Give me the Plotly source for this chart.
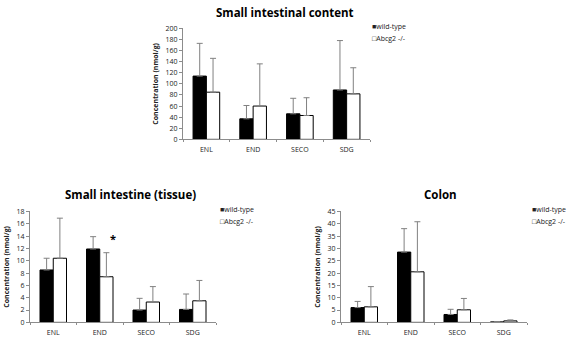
import plotly.graph_objects as go

categories = ["ENL", "END", "SECO", "SDG"]
series_names = ["wild-type", "Abcg2 -/-"]

# Small intestinal content (nmol/g)
content_wt = [114, 37, 46, 89]
content_wt_err = [59, 24, 28, 89]
content_ko = [85, 60, 43, 82]
content_ko_err = [61, 76, 32, 47]

# Small intestine (tissue)
tissue_wt = [8.5, 11.9, 2.0, 2.1]
tissue_wt_err = [1.9, 2.0, 1.9, 2.5]
tissue_ko = [10.4, 7.4, 3.3, 3.5]
tissue_ko_err = [6.5, 3.9, 2.5, 3.3]

# Colon
colon_wt = [6.0, 28.5, 3.2, 0.2]
colon_wt_err = [2.5, 9.5, 2.1, 0.1]
colon_ko = [6.3, 20.5, 5.1, 0.6]
colon_ko_err = [8.2, 20.3, 4.6, 0.4]

FONT = "Open Sans"
ERR_COLOR = "#808080"
AX_COLOR = "#8c8c8c"

W, H = 567, 340


def px(x):
    return x / W


def py(y):
    return 1 - y / H


panels = [
    ("x", "y", content_wt, content_wt_err, content_ko, content_ko_err),
    ("x2", "y2", tissue_wt, tissue_wt_err, tissue_ko, tissue_ko_err),
    ("x3", "y3", colon_wt, colon_wt_err, colon_ko, colon_ko_err),
]

fig = go.Figure()
for xa, ya, wt, wt_err, ko, ko_err in panels:
    fig.add_trace(go.Bar(
        x=categories, y=wt, name=series_names[0], xaxis=xa, yaxis=ya, showlegend=False,
        marker=dict(color="black", line=dict(color="black", width=1)),
        error_y=dict(type="data", array=wt_err, arrayminus=[0] * 4, symmetric=False,
                     color=ERR_COLOR, thickness=1, width=3),
    ))
    fig.add_trace(go.Bar(
        x=categories, y=ko, name=series_names[1], xaxis=xa, yaxis=ya, showlegend=False,
        marker=dict(color="white", line=dict(color="black", width=1)),
        error_y=dict(type="data", array=ko_err, arrayminus=[0] * 4, symmetric=False,
                     color=ERR_COLOR, thickness=1, width=3),
    ))

tick_font = dict(size=7, family=FONT, color="#222")
yaxis_common = dict(
    showline=True, linecolor=AX_COLOR, linewidth=1, showgrid=False, zeroline=False,
    ticks="outside", ticklen=3, tickcolor=AX_COLOR, tickfont=tick_font,
)
xaxis_common = dict(
    showline=True, linecolor=AX_COLOR, linewidth=1, showgrid=False, zeroline=False,
    ticks="outside", ticklen=2, tickcolor=AX_COLOR, tickson="boundaries",
    tickfont=tick_font, ticklabelstandoff=3,
)
ytitle = dict(text="<b>Concentration (nmol/g)</b>", font=dict(size=7, family=FONT, color="#222"), standoff=6)

fig.update_layout(
    width=W, height=H, margin=dict(l=0, r=0, t=0, b=0),
    paper_bgcolor="white", plot_bgcolor="white",
    barmode="group", bargap=0.43, bargroupgap=0,
    font=dict(family=FONT, size=7, color="#222"),
    showlegend=False,
    xaxis=dict(domain=[px(183), px(370)], anchor="y", **xaxis_common),
    yaxis=dict(domain=[py(138), py(24)], anchor="x", range=[0, 200], dtick=20, title=ytitle, **yaxis_common),
    xaxis2=dict(domain=[px(30), px(216)], anchor="y2", **xaxis_common),
    yaxis2=dict(domain=[py(326), py(212)], anchor="x2", range=[0, 18], dtick=2, title=ytitle, **yaxis_common),
    xaxis3=dict(domain=[px(341), px(527)], anchor="y3", **xaxis_common),
    yaxis3=dict(domain=[py(326), py(212)], anchor="x3", range=[0, 45], dtick=5, title=ytitle, **yaxis_common),
)

# per-panel legends: small square glyph right before the label
legend_spots = [(370, 22), (218, 210), (530, 210)]
for lx, ly in legend_spots:
    for i, (glyph, name) in enumerate(zip(["■", "□"], series_names)):
        fig.add_annotation(text=glyph + name, x=px(lx), y=py(ly + 12 * i), xref="paper", yref="paper",
                           xanchor="left", yanchor="middle", showarrow=False,
                           font=dict(size=7, family=FONT, color="#222"))

titles = [
    ("Small intestinal content", px(285), py(8)),
    ("Small intestine (tissue)", px(130), py(195)),
    ("Colon", px(440), py(195)),
]
for text, x, y in titles:
    fig.add_annotation(text="<b>%s</b>" % text, x=x, y=y, xref="paper", yref="paper",
                       xanchor="center", yanchor="middle", showarrow=False,
                       font=dict(size=11.5, family=FONT, color="black"))

fig.add_annotation(text="<b>*</b>", x="END", y=13.6, xref="x2", yref="y2", xshift=13,
                   showarrow=False, font=dict(size=11, family=FONT, color="black"))

# drop the default body margin so the figure sits flush with the window
fig.write_html("out.html", config={"displayModeBar": False},
               post_script="document.body.style.margin = '0';")
